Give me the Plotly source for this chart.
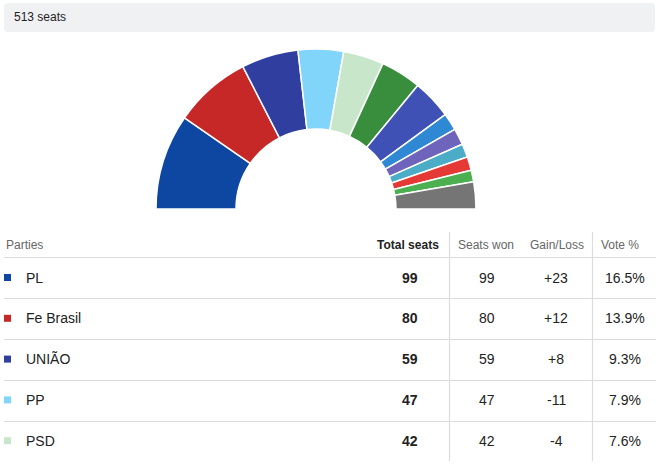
import plotly.graph_objects as go

# Seat distribution (left to right around the arc)
parties = ["PL", "Fe Brasil", "UNIÃO", "PP", "PSD", "MDB", "Republicanos",
           "PSDB Cidadania", "PDT", "PSOL REDE", "PSB", "Podemos", "Others"]
seats = [99, 80, 59, 47, 42, 42, 41, 18, 17, 14, 14, 12, 28]
colors = ["#0d47a1", "#c62828", "#303f9f", "#81d4fa", "#c8e6c9", "#388e3c",
          "#3f51b5", "#2f88d4", "#6f64bc", "#4aacc6", "#e53935", "#4caf50",
          "#757575"]

# Table rows
table_parties = ["PL", "Fe Brasil", "UNIÃO", "PP", "PSD"]
total_seats = [99, 80, 59, 47, 42]
seats_won = [99, 80, 59, 47, 42]
gain_loss = ["+23", "+12", "+8", "-11", "-4"]
vote_pct = ["16.5%", "13.9%", "9.3%", "7.9%", "7.6%"]
headers = ["Parties", "Total seats", "Seats won", "Gain/Loss", "Vote %"]

W, H = 667, 469
FONT = "Liberation Sans, Arial, sans-serif"


def px(x):
    # page pixel -> paper fraction
    return x / W


def py(y):
    return 1 - y / H


total = sum(seats)
fig = go.Figure()

# half donut: the hidden slice fills the lower half
fig.add_trace(go.Pie(
    values=seats + [total],
    labels=parties + [""],
    marker=dict(colors=colors + ["rgba(0,0,0,0)"],
                line=dict(color="white", width=[1.5] * len(seats) + [0])),
    hole=0.5,
    sort=False,
    direction="clockwise",
    rotation=270,
    textinfo="none",
    hoverinfo="label+value",
    showlegend=False,
    domain=dict(x=[px(156), px(476)], y=[py(369), py(49)]),
))

shapes = []
annotations = []

# header bar with rounded corners
x0, x1, y0, y1, r = 4, 655, 3, 32, 4
path = ("M {a},{b} L {c},{b} Q {d},{b} {d},{e} L {d},{f} Q {d},{g} {c},{g} "
        "L {a},{g} Q {h},{g} {h},{f} L {h},{e} Q {h},{b} {a},{b} Z").format(
    a=px(x0 + r), b=py(y0), c=px(x1 - r), d=px(x1), e=py(y0 + r),
    f=py(y1 - r), g=py(y1), h=px(x0))
shapes.append(dict(type="path", xref="paper", yref="paper", path=path,
                   fillcolor="#f0f1f3", line=dict(width=0), layer="below"))
annotations.append(dict(text="513 seats", x=px(12), y=py(17), xanchor="left",
                        font=dict(size=12, color="#222")))

# table header
head_y = 245
annotations.append(dict(text=headers[0], x=px(4), y=py(head_y), xanchor="left",
                        font=dict(size=12, color="#666")))
annotations.append(dict(text="<b>" + headers[1] + "</b>", x=px(441), y=py(head_y),
                        xanchor="right", font=dict(size=12, color="#222")))
for h, cx in zip(headers[2:], [486, 557, 620]):
    annotations.append(dict(text=h, x=px(cx), y=py(head_y), xanchor="center",
                            font=dict(size=12, color="#666")))

# grid lines
line_ys = [257.5, 298.5, 339.5, 380.5, 421.5]
for ly in line_ys:
    shapes.append(dict(type="line", xref="paper", yref="paper",
                       x0=px(4), x1=px(656), y0=py(ly), y1=py(ly),
                       line=dict(color="#dcdcdc", width=1.2)))
for lx in [449.5, 592.5]:
    shapes.append(dict(type="line", xref="paper", yref="paper",
                       x0=px(lx), x1=px(lx), y0=py(232), y1=py(461),
                       line=dict(color="#dcdcdc", width=1.2)))

# table rows
row_h = 40.8
for i, name in enumerate(table_parties):
    ry = 277.5 + i * row_h
    shapes.append(dict(type="rect", xref="paper", yref="paper",
                       x0=px(4), x1=px(11), y0=py(ry - 3.5), y1=py(ry + 3.5),
                       fillcolor=colors[parties.index(name)], line=dict(width=0)))
    annotations.append(dict(text=name, x=px(24), y=py(ry), xanchor="left",
                            font=dict(size=14, color="#222")))
    annotations.append(dict(text="<b>%d</b>" % total_seats[i], x=px(410), y=py(ry),
                            xanchor="center", font=dict(size=14, color="#222")))
    annotations.append(dict(text=str(seats_won[i]), x=px(487), y=py(ry),
                            xanchor="center", font=dict(size=14, color="#222")))
    annotations.append(dict(text=gain_loss[i], x=px(556), y=py(ry),
                            xanchor="center", font=dict(size=14, color="#222")))
    annotations.append(dict(text=vote_pct[i], x=px(625), y=py(ry),
                            xanchor="center", font=dict(size=14, color="#222")))

for a in annotations:
    a.update(xref="paper", yref="paper", showarrow=False, yanchor="middle")

fig.update_layout(
    width=W, height=H,
    margin=dict(l=0, r=0, t=0, b=0),
    paper_bgcolor="white",
    plot_bgcolor="white",
    font=dict(family=FONT),
    shapes=shapes,
    annotations=annotations,
)

# drop the default 8px body margin so the figure fills the window
fig.write_html("out.html",
               config={"displayModeBar": False},
               post_script="document.body.style.margin='0';"
                           "document.body.style.overflow='hidden';")
